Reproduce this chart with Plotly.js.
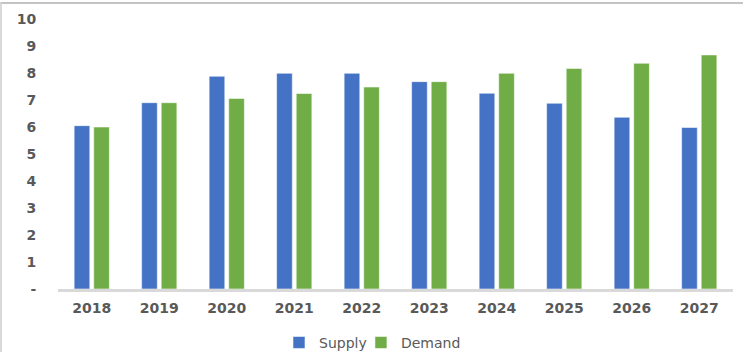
<!DOCTYPE html>
<html>
<head>
<meta charset="utf-8">
<script src="https://cdn.plot.ly/plotly-3.0.1.min.js"></script>
<style>
  html, body { margin: 0; padding: 0; background: #ffffff; }
  #wrap { position: relative; width: 743px; height: 352px; }
  #chart { width: 743px; height: 352px; }
  #frame { position: absolute; left: 0; top: 2px; width: 743px; height: 350px;
           border-top: 2px solid #c4c4c4; border-left: 2px solid #d9d9d9; box-sizing: border-box; pointer-events: none; }
</style>
</head>
<body>
<div id="wrap">
  <div id="chart"></div>
  <div id="frame"></div>
</div>
<script>
const years = ['2018','2019','2020','2021','2022','2023','2024','2025','2026','2027'];
const supply = [6.05, 6.9, 7.88, 7.99, 7.99, 7.68, 7.25, 6.88, 6.36, 5.98];
const demand = [6.0, 6.9, 7.06, 7.24, 7.48, 7.68, 7.99, 8.17, 8.36, 8.67];
const yTickVals = [0,1,2,3,4,5,6,7,8,9,10];
const yTickText = ['-','1','2','3','4','5','6','7','8','9','10'];

const txt = '#595959';
const tickFont = {family: 'DejaVu Sans, Verdana, sans-serif', size: 14, color: txt, weight: 'bold'};
const legFont = {family: 'DejaVu Sans, Verdana, sans-serif', size: 14, color: txt};

const traces = [
  {type: 'bar', name: 'Supply', x: years, y: supply, legend: 'legend',
   marker: {color: '#4472C4', line: {color: 'rgba(255,255,255,0.55)', width: 1}}},
  {type: 'bar', name: 'Demand', x: years, y: demand, legend: 'legend2',
   marker: {color: '#70AD47', line: {color: 'rgba(255,255,255,0.55)', width: 1}}}
];

const layout = {
  width: 743, height: 352,
  margin: {l: 58, r: 10, t: 19, b: 63, autoexpand: false},
  paper_bgcolor: '#ffffff', plot_bgcolor: '#ffffff',
  barmode: 'group', bargap: 0.42, bargroupgap: 0.2,
  showlegend: true,
  legend: {orientation: 'h', xref: 'container', x: 0.3755, xanchor: 'left', bgcolor: 'rgba(0,0,0,0)',
           yref: 'container', y: 0.026, yanchor: 'middle', font: legFont, itemwidth: 30},
  legend2: {orientation: 'h', xref: 'container', x: 0.4858, xanchor: 'left', bgcolor: 'rgba(0,0,0,0)',
           yref: 'container', y: 0.026, yanchor: 'middle', font: legFont, itemwidth: 30},
  xaxis: {type: 'category', showline: true, linecolor: '#d9d9d9', linewidth: 3,
          showgrid: false, zeroline: false, ticks: 'outside', ticklen: 4, tickcolor: 'rgba(0,0,0,0)',
          tickfont: tickFont},
  yaxis: {range: [0, 10], tickvals: yTickVals, ticktext: yTickText,
          showgrid: false, zeroline: false, showline: false,
          ticks: 'outside', ticklen: 18, tickcolor: 'rgba(0,0,0,0)',
          tickfont: tickFont}
};

Plotly.newPlot('chart', traces, layout, {displayModeBar: false, staticPlot: true});
</script>
</body>
</html>
